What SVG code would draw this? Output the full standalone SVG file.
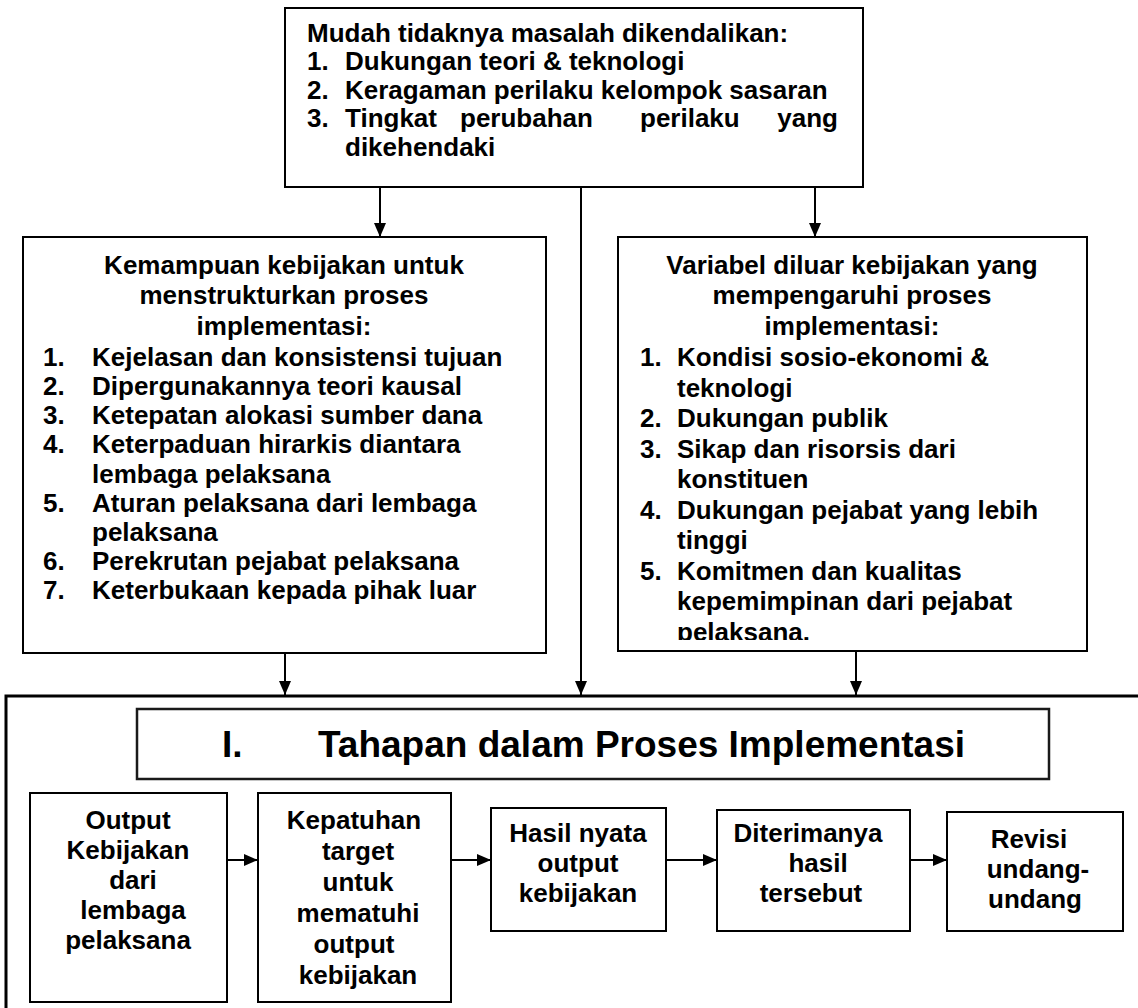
<svg xmlns="http://www.w3.org/2000/svg" width="1138" height="1008" viewBox="0 0 1138 1008">
  <style>
    .box { fill: #ffffff; stroke: #000000; stroke-width: 2; }
    .title-box { fill: #ffffff; stroke: #1a1a1a; stroke-width: 2.5; }
    .frame { fill: none; stroke: #000000; stroke-width: 3; }
    .t { font-family: "Liberation Sans", Arial, sans-serif; font-weight: bold; font-size: 26px; fill: #000000; }
    .c { text-anchor: middle; }
    .big { font-size: 37px; }
    .wire { fill: none; stroke: #000000; stroke-width: 2; }
  </style>
  <defs>
    <marker id="arrow" viewBox="0 0 14 12" refX="14" refY="6" markerWidth="14" markerHeight="12" markerUnits="userSpaceOnUse" orient="auto">
      <path d="M0,0 L14,6 L0,12 Z" fill="#000000"/>
    </marker>
    <clipPath id="clip-right">
      <rect x="618" y="237" width="469" height="403"/>
    </clipPath>
  </defs>

  <rect width="1138" height="1008" fill="#ffffff"/>

  <!-- outer frame of the implementation stages (runs past the page edges) -->
  <g id="stages-frame">
    <path class="frame" d="M1140,696 L6,696 L6,1010"/>
  </g>

  <!-- problem tractability -->
  <g id="tractability">
    <rect class="box" x="285" y="8" width="578" height="179"/>
    <text class="t" x="307" y="41.5">Mudah tidaknya masalah dikendalikan:</text>
    <text class="t" x="307" y="70">1.</text>
    <text class="t" x="345" y="70">Dukungan teori &amp; teknologi</text>
    <text class="t" x="307" y="98.5">2.</text>
    <text class="t" x="345" y="98.5">Keragaman perilaku kelompok sasaran</text>
    <text class="t" x="307" y="127">3.</text>
    <text class="t" x="345" y="127">Tingkat</text>
    <text class="t" x="460" y="127">perubahan</text>
    <text class="t" x="640" y="127">perilaku</text>
    <text class="t" x="838" y="127" text-anchor="end">yang</text>
    <text class="t" x="345" y="155.5">dikehendaki</text>
  </g>

  <!-- statute's ability to structure implementation -->
  <g id="statute-structure">
    <rect class="box" x="23" y="237" width="523" height="416"/>
    <text class="t c" x="284" y="274">Kemampuan kebijakan untuk</text>
    <text class="t c" x="284" y="304">menstrukturkan proses</text>
    <text class="t c" x="284" y="335">implementasi:</text>
    <text class="t" x="43" y="366">1.</text>
    <text class="t" x="92" y="366">Kejelasan dan konsistensi tujuan</text>
    <text class="t" x="43" y="395">2.</text>
    <text class="t" x="92" y="395">Dipergunakannya teori kausal</text>
    <text class="t" x="43" y="424">3.</text>
    <text class="t" x="92" y="424">Ketepatan alokasi sumber dana</text>
    <text class="t" x="43" y="453">4.</text>
    <text class="t" x="92" y="453">Keterpaduan hirarkis diantara</text>
    <text class="t" x="92" y="483">lembaga pelaksana</text>
    <text class="t" x="43" y="512">5.</text>
    <text class="t" x="92" y="512">Aturan pelaksana dari lembaga</text>
    <text class="t" x="92" y="541">pelaksana</text>
    <text class="t" x="43" y="570">6.</text>
    <text class="t" x="92" y="570">Perekrutan pejabat pelaksana</text>
    <text class="t" x="43" y="599">7.</text>
    <text class="t" x="92" y="599">Keterbukaan kepada pihak luar</text>
  </g>

  <!-- non-statutory variables -->
  <g id="non-statutory">
    <rect class="box" x="618" y="237" width="469" height="414"/>
    <text class="t c" x="852" y="274">Variabel diluar kebijakan yang</text>
    <text class="t c" x="852" y="304">mempengaruhi proses</text>
    <text class="t c" x="852" y="335">implementasi:</text>
    <g clip-path="url(#clip-right)">
      <text class="t" x="640" y="366">1.</text>
      <text class="t" x="677" y="366">Kondisi sosio-ekonomi &amp;</text>
      <text class="t" x="677" y="396.5">teknologi</text>
      <text class="t" x="640" y="427">2.</text>
      <text class="t" x="677" y="427">Dukungan publik</text>
      <text class="t" x="640" y="457.5">3.</text>
      <text class="t" x="677" y="457.5">Sikap dan risorsis dari</text>
      <text class="t" x="677" y="488">konstituen</text>
      <text class="t" x="640" y="518.5">4.</text>
      <text class="t" x="677" y="518.5">Dukungan pejabat yang lebih</text>
      <text class="t" x="677" y="549">tinggi</text>
      <text class="t" x="640" y="579.5">5.</text>
      <text class="t" x="677" y="579.5">Komitmen dan kualitas</text>
      <text class="t" x="677" y="610">kepemimpinan dari pejabat</text>
      <text class="t" x="677" y="641">pelaksana.</text>
    </g>
  </g>

  <!-- heading of the stages -->
  <g id="stages-heading">
    <rect class="title-box" x="137" y="709" width="912" height="70"/>
    <text class="t big" x="222" y="757">I.</text>
    <text class="t big" x="318" y="757">Tahapan dalam Proses Implementasi</text>
  </g>

  <g id="stage-1">
    <rect class="box" x="30" y="793" width="197" height="209"/>
    <text class="t c" x="128" y="829">Output</text>
    <text class="t c" x="128" y="859">Kebijakan</text>
    <text class="t c" x="133" y="889">dari</text>
    <text class="t c" x="133" y="919">lembaga</text>
    <text class="t c" x="128" y="949">pelaksana</text>
  </g>

  <g id="stage-2">
    <rect class="box" x="258" y="793" width="193" height="209"/>
    <text class="t c" x="354" y="829">Kepatuhan</text>
    <text class="t c" x="358" y="860">target</text>
    <text class="t c" x="358" y="891">untuk</text>
    <text class="t c" x="358" y="922">mematuhi</text>
    <text class="t c" x="354" y="953">output</text>
    <text class="t c" x="358" y="984">kebijakan</text>
  </g>

  <g id="stage-3">
    <rect class="box" x="491" y="808" width="175" height="123"/>
    <text class="t c" x="578" y="842">Hasil nyata</text>
    <text class="t c" x="578" y="872">output</text>
    <text class="t c" x="578" y="902">kebijakan</text>
  </g>

  <g id="stage-4">
    <rect class="box" x="717" y="810" width="193" height="121"/>
    <text class="t c" x="808" y="842">Diterimanya</text>
    <text class="t c" x="818" y="872">hasil</text>
    <text class="t c" x="811" y="902">tersebut</text>
  </g>

  <g id="stage-5">
    <rect class="box" x="947" y="812" width="176" height="119"/>
    <text class="t c" x="1029" y="848">Revisi</text>
    <text class="t c" x="1038" y="878">undang-</text>
    <text class="t c" x="1035" y="908">undang</text>
  </g>

  <!-- connectors -->
  <g id="connectors">
    <line class="wire" x1="380" y1="187" x2="380" y2="237" marker-end="url(#arrow)"/>
    <line class="wire" x1="815" y1="187" x2="815" y2="237" marker-end="url(#arrow)"/>
    <line class="wire" x1="581" y1="187" x2="581" y2="695" marker-end="url(#arrow)"/>
    <line class="wire" x1="285" y1="653" x2="285" y2="695" marker-end="url(#arrow)"/>
    <line class="wire" x1="856" y1="651" x2="856" y2="695" marker-end="url(#arrow)"/>
    <line class="wire" x1="227" y1="860" x2="258" y2="860" marker-end="url(#arrow)"/>
    <line class="wire" x1="451" y1="860" x2="491" y2="860" marker-end="url(#arrow)"/>
    <line class="wire" x1="666" y1="860" x2="717" y2="860" marker-end="url(#arrow)"/>
    <line class="wire" x1="910" y1="860" x2="947" y2="860" marker-end="url(#arrow)"/>
  </g>
</svg>
